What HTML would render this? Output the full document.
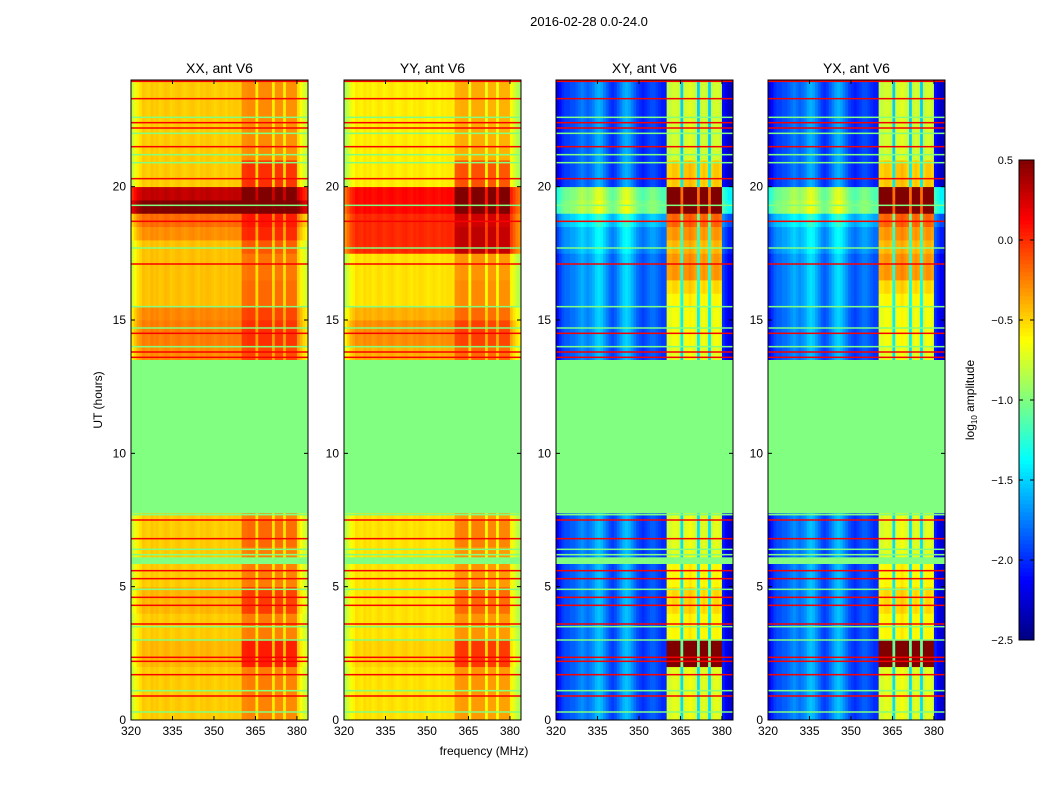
<!DOCTYPE html>
<html><head><meta charset="utf-8">
<style>
body{margin:0;background:#fff;font-family:"Liberation Sans",sans-serif;}
svg text{font-family:"Liberation Sans",sans-serif;}
</style></head>
<body>
<svg id="chart" width="1050" height="800" xmlns="http://www.w3.org/2000/svg">
<rect width="1050" height="800" fill="#fff"/>
<text x="589" y="26" font-size="13" text-anchor="middle">2016-02-28 0.0-24.0</text>
<text x="484" y="755" font-size="12" text-anchor="middle">frequency (MHz)</text>
<text transform="translate(102,400) rotate(-90)" font-size="12" text-anchor="middle">UT (hours)</text>
<text transform="translate(974,400) rotate(-90)" font-size="12" text-anchor="middle">log<tspan font-size="8" dy="3">10</tspan><tspan dy="-3"> amplitude</tspan></text>
<g id="panels"></g>
<g id="cbar"></g>
</svg>
<script>
// ---- data ----
const panelTitles = ["XX, ant V6","YY, ant V6","XY, ant V6","YX, ant V6"];
const freqStart = 320, freqStep = 1;
const autoProfile = [-0.3,-0.2,-0.1,-0.05,
 0.02,0,-0.02,0.03,0,0.02,-0.02,0,0.03,0.02,
 -0.02,0,0.02,0.03,0,-0.02,0,0.02,0.03,0,
 -0.02,0.02,0,0.03,0.02,0,-0.02,0,0.02,0,
 -0.02,0.02,0,0.02,0.02,0,
 0.1,0.1,0.12,0.12,0.12,-0.12,0.12,0.12,0.12,0.12,0.12,-0.12,0.1,0.1,0.1,-0.12,0.1,0.1,0.1,0.1,
 -0.05,-0.15,-0.25,-0.3];
const crossProfile = [-0.2,-0.1,0,0.05,
 0.05,0.1,0.1,0.15,
 0.2,0.25,0.2,0.15,0.2,0.25,
 0.35,0.4,0.35,0.25,0.15,0.05,
 0,0.05,0.15,0.25,
 0.35,0.4,0.35,0.25,0.15,0.05,
 0,-0.05,0,0.05,0.1,0.1,0.05,0,-0.05,-0.05,
 1.1,1.1,1.15,1.15,1.1,0.45,1.15,1.15,1.2,1.15,1.1,0.45,1.1,1.15,1.1,0.45,1.1,1.15,1.15,1.1,
 -0.1,-0.2,-0.3,-0.3];
const bandMask = [0,0,0,0, 0,0,0,0,0,0,0,0,0,0, 0,0,0,0,0,0,0,0,0,0, 0,0,0,0,0,0,0,0,0,0, 0,0,0,0,0,0,
 1,1,1,1,1,0.3,1,1,1,1,1,0.3,1,1,1,0.3,1,1,1,1, 0,0,0,0];
const baseXX = [-0.48,-0.48,-0.48,-0.48,-0.42,-0.42,-0.48,-0.48,-0.42,-0.42,-0.48,-0.48,-0.48,-0.48,-0.48,-0.48,-1,-1,-1,-1,-1,-1,-1,-1,-1,-1,-1,-0.3,-0.25,-0.25,-0.28,-0.45,-0.45,-0.45,-0.45,-0.45,-0.3,-0.2,0.5,0.3,-0.48,-0.48,-0.48,-0.48,-0.48,-0.48,-0.48,-0.48];
const baseYY = [-0.55,-0.55,-0.55,-0.55,-0.5,-0.5,-0.55,-0.55,-0.55,-0.55,-0.55,-0.55,-0.55,-0.55,-0.55,-0.55,-1,-1,-1,-1,-1,-1,-1,-1,-1,-1,-1,-0.4,-0.3,-0.3,-0.4,-0.55,-0.55,-0.55,-0.55,0.0,0.0,0.0,0.1,0.1,-0.58,-0.58,-0.58,-0.58,-0.58,-0.58,-0.58,-0.58];
const baseXY = [-1.95,-1.95,-1.95,-1.95,-1.95,-1.95,-1.95,-1.95,-1.95,-1.95,-1.95,-1.95,-1.95,-1.95,-1.95,-1.95,-1,-1,-1,-1,-1,-1,-1,-1,-1,-1,-1,-1.95,-1.9,-1.9,-1.9,-1.85,-1.85,-1.85,-1.85,-1.75,-1.75,-1.6,-1.05,-1.1,-2.0,-2.0,-2.0,-2.0,-2.0,-2.0,-2.0,-2.0];
const baseYX = [-1.95,-1.95,-1.95,-1.95,-1.95,-1.95,-1.95,-1.95,-1.95,-1.95,-1.95,-1.95,-1.95,-1.95,-1.95,-1.95,-1,-1,-1,-1,-1,-1,-1,-1,-1,-1,-1,-1.95,-1.9,-1.9,-1.9,-1.85,-1.85,-1.85,-1.85,-1.75,-1.75,-1.6,-1.05,-1.1,-2.0,-2.0,-2.0,-2.0,-2.0,-2.0,-2.0,-2.0];
const rfiAuto = [0.1,0.1,0.12,0.12,0.35,0.35,0.12,0.12,0.25,0.25,0.12,0.12,0.12,0.18,0.18,0.1,0,0,0,0,0,0,0,0,0,0,0,0.1,0.12,0.12,0.1,0.15,0.15,0.12,0.12,0.2,0.2,0.15,0.3,0.3,0.35,0.35,0.08,0.08,0.08,0.08,0.08,0.08];
const rfiCross = [0.1,0.1,0.1,0.1,1.6,1.4,0.2,0.2,0.3,0.3,0.2,0.2,0.1,0.1,0.1,0.1,0,0,0,0,0,0,0,0,0,0,0,0.1,0.1,0.1,0.1,0.1,0.2,0.4,0.4,0.2,0.3,0.3,1.5,1.5,0.4,0.4,0.1,0.1,0.1,0.1,0.1,0.1];
const flagStarts = [5.85,7.75];
const flagEnds = [6.1,13.5];
const redLines = [0.9,1.7,2.2,2.35,3.6,4.3,4.6,5.3,5.6,6.8,7.5,13.6,13.8,14.5,17.1,18.7,20.3,21.5,22.2,22.4,23.3,23.95];
const greenLines = [0.3,1.1,3.0,3.5,4.9,6.2,6.4,7.7,14.0,14.7,15.5,17.7,19.3,20.9,21.2,22.0,22.6];
const xTicks = [320,335,350,365,380];
const yTicks = [0,5,10,15,20];
const cbarTicks = [0.5,0.0,-0.5,-1.0,-1.5,-2.0,-2.5];
const cbarLabels = ["0.5","0.0","\u22120.5","\u22121.0","\u22121.5","\u22122.0","\u22122.5"];

// ---- geometry ----
const panelLefts = [131,344,556,768];
const PW = 177, PT = 80, PB = 720;
const VMIN = -2.5, VMAX = 0.5;
function jet(v){
  let t=(v-VMIN)/(VMAX-VMIN); t=Math.max(0,Math.min(1,t));
  const f=(x)=>Math.max(0,Math.min(1,x));
  const r=f(Math.min(4*t-1.5,-4*t+4.5)), g=f(Math.min(4*t-0.5,-4*t+3.5)), b=f(Math.min(4*t+0.5,-4*t+2.5));
  return `rgb(${Math.round(r*255)},${Math.round(g*255)},${Math.round(b*255)})`;
}
const NS="http://www.w3.org/2000/svg";
function mk(tag,attrs,parent){const e=document.createElementNS(NS,tag);for(const k in attrs)e.setAttribute(k,attrs[k]);parent.appendChild(e);return e;}
const panelsG=document.getElementById('panels');
const bases=[baseXX,baseYY,baseXY,baseYX];
const profs=[autoProfile,autoProfile,crossProfile,crossProfile];
const rfis=[rfiAuto,rfiAuto,rfiCross,rfiCross];
const names=["xx","yy","xy","yx"];
const FMIN=320,FMAX=384,TMIN=0,TMAX=24;

panelLefts.forEach((L,p)=>{
  const xs=f=>L+(f-FMIN)/(FMAX-FMIN)*PW;
  const ys=t=>PB-(t-TMIN)/(TMAX-TMIN)*(PB-PT);
  const g=mk('g',{},panelsG);
  
  
  const hm=mk('g',{},g);
  
  
  const base=bases[p],prof=profs[p],rfi=rfis[p];
  const dt=24/base.length;
  for(let i=0;i<base.length;i++){
    for(let j=0;j<prof.length;j++){
      const v=base[i]===-1?-1:base[i]+prof[j]+rfi[i]*bandMask[j];
      const f0=freqStart+j*freqStep;
      const x0=xs(f0),x1=xs(f0+freqStep);
      const y0=ys(i*dt+dt),y1=ys(i*dt);
      const r=mk('rect',{x:x0.toFixed(2),y:y0.toFixed(2),width:(x1-x0+0.4).toFixed(2),height:(y1-y0+0.4).toFixed(2),fill:jet(v)},hm);
      
      
    }
  }
  flagStarts.forEach((s,k)=>{
    const r=mk('rect',{x:L,y:ys(flagEnds[k]),width:PW,height:ys(s)-ys(flagEnds[k]),fill:jet(-1)},g);
    
    
  });
  redLines.forEach(t=>{
    const r=mk('rect',{x:L,y:ys(t)-0.75,width:PW,height:1.5,fill:jet(0.15)},g);
    
    
  });
  greenLines.forEach(t=>{
    const r=mk('rect',{x:L,y:ys(t)-0.75,width:PW,height:1.5,fill:jet(-1)},g);
    
    
  });
  const fr=mk('rect',{x:L,y:PT,width:PW,height:PB-PT,fill:'none',stroke:'#000','stroke-width':1},g);
  
  
  const tt=mk('text',{x:L+PW/2,y:PT-7,'font-size':14,'text-anchor':'middle'},g);
  tt.textContent=panelTitles[p];
  
  
  xTicks.forEach(f=>{
    const x=xs(f);
    mk('line',{x1:x,y1:PB,x2:x,y2:PB-4,stroke:'#000'},g);
    mk('line',{x1:x,y1:PT,x2:x,y2:PT+4,stroke:'#000'},g);
    const t=mk('text',{x:x,y:PB+15,'font-size':12,'text-anchor':'middle'},g);
    t.textContent=f;
    
    
  });
  yTicks.forEach(v=>{
    const y=ys(v);
    mk('line',{x1:L,y1:y,x2:L+4,y2:y,stroke:'#000'},g);
    mk('line',{x1:L+PW,y1:y,x2:L+PW-4,y2:y,stroke:'#000'},g);
    const t=mk('text',{x:L-5,y:y+4,'font-size':12,'text-anchor':'end'},g);
    t.textContent=v;
    
    
  });
});

// colorbar
const cb=document.getElementById('cbar');
const CX=1019,CW=15,CT=160,CB=640;
const cys=v=>CB-(v-VMIN)/(VMAX-VMIN)*(CB-CT);
for(let k=0;k<120;k++){
  const v0=VMIN+k*(VMAX-VMIN)/120;
  const r=mk('rect',{x:CX,y:cys(v0+(VMAX-VMIN)/120)-0.3,width:CW,height:(CB-CT)/120+0.6,fill:jet(v0+0.0125)},cb);
  
  
}
mk('rect',{x:CX,y:CT,width:CW,height:CB-CT,fill:'none',stroke:'#000'},cb);
cbarTicks.forEach((v,k)=>{
  const y=cys(v);
  mk('line',{x1:CX,y1:y,x2:CX+4,y2:y,stroke:'#000'},cb);
  mk('line',{x1:CX+CW,y1:y,x2:CX+CW-4,y2:y,stroke:'#000'},cb);
  const t=mk('text',{x:CX-6,y:y+4,'font-size':11,'text-anchor':'end'},cb);
  t.textContent=cbarLabels[k];
  
  
});
</script>
</body></html>
